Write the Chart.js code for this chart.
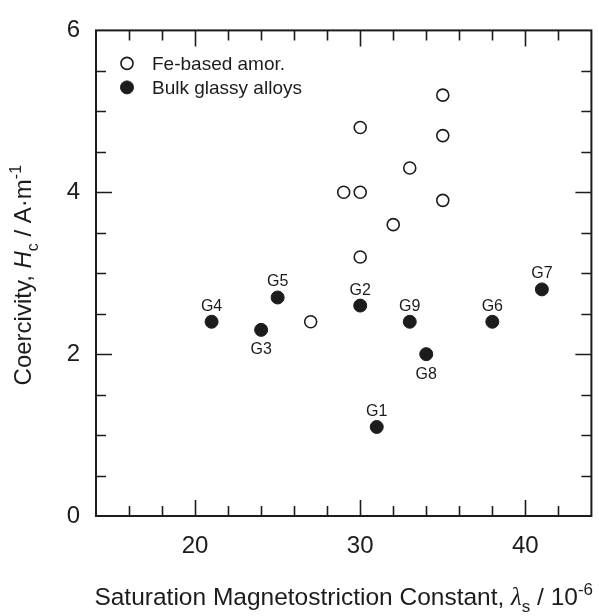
<!DOCTYPE html>
<html>
<head>
<meta charset="utf-8">
<script src="https://cdn.jsdelivr.net/npm/chart.js@4/dist/chart.umd.min.js"></script>
<style>
  html, body { margin: 0; padding: 0; background: #fff; }
  #wrap { width: 599px; height: 616px; }
</style>
</head>
<body>
<div id="wrap"><canvas id="c" width="599" height="616"></canvas></div>
<script>
  // Fe-based amorphous alloys (open circles)
  var amorX = [35, 30, 35, 33, 29, 30, 35, 32, 30, 27];
  var amorY = [5.2, 4.8, 4.7, 4.3, 4.0, 4.0, 3.9, 3.6, 3.2, 2.4];

  // bulk glassy alloys (filled circles)
  var bulkNames = ['G1', 'G2', 'G3', 'G4', 'G5', 'G6', 'G7', 'G8', 'G9'];
  var bulkX = [31, 30, 24, 21, 25, 38, 41, 34, 33];
  var bulkY = [1.1, 2.6, 2.3, 2.4, 2.7, 2.4, 2.8, 2.0, 2.4];
  var labelsBelow = ['G3', 'G8'];

  var xTicks = [20, 30, 40];
  var yTicks = [0, 2, 4, 6];

  var ink = '#1c1c1c';
  var sans = '"Liberation Sans", Arial, Helvetica, sans-serif';

  function pts(xs, ys) {
    return xs.map(function (x, i) {
      return { x: x, y: ys[i] };
    });
  }

  // rich text: array of {t, it, sub, sup, serif}
  function drawRich(ctx, parts, x, y, size) {
    function fontOf(p) {
      var s = p.sub || p.sup ? Math.round(size * 0.68) : size;
      var fam = p.serif ? '"Liberation Serif", "DejaVu Serif", serif' : sans;
      return (p.it ? 'italic ' : '') + s + 'px ' + fam;
    }
    var total = 0;
    parts.forEach(function (p) {
      ctx.font = fontOf(p);
      p.w = ctx.measureText(p.t).width;
      total += p.w;
    });
    var cx = x - total / 2;
    ctx.textAlign = 'left';
    ctx.textBaseline = 'alphabetic';
    parts.forEach(function (p) {
      ctx.font = fontOf(p);
      var dy = p.sub ? size * 0.3 : p.sup ? -size * 0.42 : 0;
      ctx.fillText(p.t, cx, y + dy);
      cx += p.w;
    });
  }

  var framePlugin = {
    id: 'frame',
    afterDraw: function (chart) {
      var ctx = chart.ctx;
      var a = chart.chartArea;
      var xs = chart.scales.x;
      var ys = chart.scales.y;
      ctx.save();
      ctx.strokeStyle = ink;
      ctx.lineWidth = 2;
      ctx.strokeRect(a.left, a.top, a.right - a.left, a.bottom - a.top);
      ctx.lineWidth = 1.6;
      ctx.beginPath();
      var v, px, len;
      for (v = xs.min + 2; v < xs.max; v += 2) {
        px = Math.round(xs.getPixelForValue(v)) + 0.5;
        len = v % 10 === 0 ? 16 : 10;
        ctx.moveTo(px, a.bottom);
        ctx.lineTo(px, a.bottom - len);
        ctx.moveTo(px, a.top);
        ctx.lineTo(px, a.top + len);
      }
      for (v = ys.min + 0.5; v < ys.max; v += 0.5) {
        px = Math.round(ys.getPixelForValue(v)) + 0.5;
        len = v % 2 === 0 ? 16 : 10;
        ctx.moveTo(a.left, px);
        ctx.lineTo(a.left + len, px);
        ctx.moveTo(a.right, px);
        ctx.lineTo(a.right - len, px);
      }
      ctx.stroke();

      // point labels G1..G9
      var meta = chart.getDatasetMeta(1);
      ctx.fillStyle = ink;
      ctx.font = '16px ' + sans;
      ctx.textAlign = 'center';
      meta.data.forEach(function (el, i) {
        var name = bulkNames[i];
        if (labelsBelow.indexOf(name) >= 0) {
          ctx.textBaseline = 'top';
          ctx.fillText(name, el.x, el.y + 12);
        } else {
          ctx.textBaseline = 'alphabetic';
          ctx.fillText(name, el.x, el.y - 11);
        }
      });

      // legend inside the plot
      var lx = a.left + 31;
      var rows = [a.top + 33, a.top + 57];
      chart.data.datasets.forEach(function (ds, i) {
        ctx.beginPath();
        ctx.arc(lx, rows[i], ds.pointRadius, 0, Math.PI * 2);
        ctx.fillStyle = ds.pointBackgroundColor;
        ctx.fill();
        ctx.lineWidth = ds.pointBorderWidth;
        ctx.strokeStyle = ink;
        ctx.stroke();
        ctx.fillStyle = ink;
        ctx.font = '19px ' + sans;
        ctx.textAlign = 'left';
        ctx.textBaseline = 'middle';
        ctx.fillText(ds.label, lx + 25, rows[i] + 1);
      });

      // axis titles
      ctx.fillStyle = ink;
      drawRich(ctx, [
        { t: 'Saturation Magnetostriction Constant, ' },
        { t: '\u03bb', it: true, serif: true },
        { t: 's', sub: true },
        { t: ' / 10' },
        { t: '-6', sup: true }
      ], (a.left + a.right) / 2, 605, 24.5);

      ctx.save();
      ctx.translate(31, (a.top + a.bottom) / 2 + 2);
      ctx.rotate(-Math.PI / 2);
      drawRich(ctx, [
        { t: 'Coercivity, ' },
        { t: 'H', it: true },
        { t: 'c', sub: true },
        { t: ' / A\u00b7m' },
        { t: '-1', sup: true }
      ], 0, 0, 24);
      ctx.restore();
      ctx.restore();
    }
  };

  new Chart(document.getElementById('c'), {
    type: 'scatter',
    data: {
      datasets: [
        {
          label: 'Fe-based amor.',
          data: pts(amorX, amorY),
          pointRadius: 6,
          pointHoverRadius: 6,
          pointBackgroundColor: '#ffffff',
          pointBorderColor: ink,
          pointBorderWidth: 1.6,
        },
        {
          label: 'Bulk glassy alloys',
          data: pts(bulkX, bulkY),
          pointRadius: 6.5,
          pointHoverRadius: 6.5,
          pointBackgroundColor: ink,
          pointBorderColor: ink,
          pointBorderWidth: 1,
        },
      ],
    },
    options: {
      responsive: false,
      animation: false,
      events: [],
      layout: { padding: { top: 16, right: 1, left: 0, bottom: 0 } },
      plugins: {
        legend: { display: false },
        tooltip: { enabled: false },
      },
      scales: {
        x: {
          type: 'linear',
          min: 14,
          max: 44,
          grid: { display: false, drawTicks: false },
          border: { display: false },
          afterBuildTicks: function (s) {
            s.ticks = xTicks.map(function (v) { return { value: v }; });
          },
          afterFit: function (s) { s.height = 100; },
          ticks: {
            color: ink,
            padding: 16,
            maxRotation: 0,
            font: { family: sans, size: 24 },
          },
        },
        y: {
          type: 'linear',
          min: 0,
          max: 6,
          grid: { display: false, drawTicks: false },
          border: { display: false },
          afterBuildTicks: function (s) {
            s.ticks = yTicks.map(function (v) { return { value: v }; });
          },
          afterFit: function (s) { s.width = 96; },
          ticks: {
            color: ink,
            padding: 16,
            font: { family: sans, size: 24 },
          },
        },
      },
    },
    plugins: [framePlugin],
  });
</script>
</body>
</html>
